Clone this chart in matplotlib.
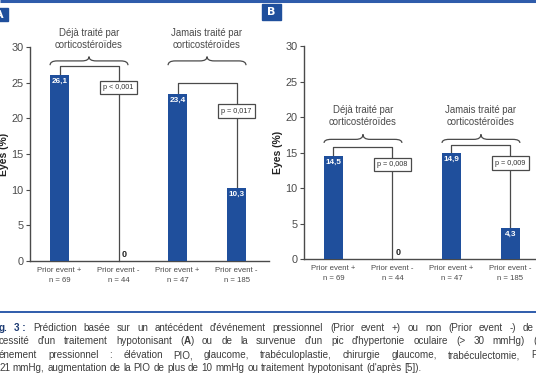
import matplotlib
matplotlib.use("Agg")
import matplotlib.pyplot as plt
from matplotlib.patches import Rectangle, PathPatch
from matplotlib.path import Path

# ---------------- data ----------------
categories = ["Prior event +\nn = 69", "Prior event -\nn = 44",
              "Prior event +\nn = 47", "Prior event -\nn = 185"]
values_A = [26.1, 0, 23.4, 10.3]
values_B = [14.5, 0, 14.9, 4.3]
labels_A = ["26,1", "0", "23,4", "10,3"]
labels_B = ["14,5", "0", "14,9", "4,3"]
pvals_A = ["p < 0,001", "p = 0,017"]
pvals_B = ["p = 0,008", "p = 0,009"]
groups = ["Déjà traité par\ncorticostéroïdes", "Jamais traité par\ncorticostéroïdes"]
yticks = [0, 5, 10, 15, 20, 25, 30]
ylabel = "Eyes (%)"
caption_1 = "**g.** **3\u00a0:** Prédiction basée sur un antécédent d'événement pressionnel (Prior event +) ou non (Prior event -) de"
caption_2 = "cessité d'un traitement hypotonisant (**A**) ou de la survenue d'un pic d'hypertonie oculaire (> 30 mmHg) ("
caption_3 = "énement pressionnel : élévation PIO, glaucome, trabéculoplastie, chirurgie glaucome, trabéculectomie, P"
caption_4 = "21 mmHg, augmentation de la PIO de plus de 10 mmHg ou traitement hypotonisant (d'après [5])."

BLUE = "#1f4f9c"
GRAY = "#4a4a4a"
FONT = ["Liberation Sans", "DejaVu Sans"]

W, H = 536, 386
fig = plt.figure(figsize=(W / 100, H / 100), dpi=100)


def ax_px(left, right, top, bottom):
    return fig.add_axes([left / W, 1 - bottom / H, (right - left) / W, (bottom - top) / H])


def brace(ax, x0, x1, y_end, y_mid, y_tip):
    xc = (x0 + x1) / 2
    d = 0.12
    verts = [(x0, y_end), (x0, y_mid), (x0 + d, y_mid),
             (xc - d, y_mid),
             (xc, y_mid), (xc, y_tip),
             (xc, y_mid), (xc + d, y_mid),
             (x1 - d, y_mid),
             (x1, y_mid), (x1, y_end)]
    codes = [Path.MOVETO, Path.CURVE3, Path.CURVE3,
             Path.LINETO,
             Path.CURVE3, Path.CURVE3,
             Path.CURVE3, Path.CURVE3,
             Path.LINETO,
             Path.CURVE3, Path.CURVE3]
    ax.add_patch(PathPatch(Path(verts, codes), fill=False, edgecolor=GRAY,
                           lw=0.9, clip_on=False))


def panel(ax, values, labels, pvals, xmax, line_y, p_y, brace_y, text_y, width_px):
    x = list(range(len(values)))
    ax.bar(x, values, width=0.31, color=BLUE, zorder=3)
    ax.set_xlim(-0.5, xmax)
    ax.set_ylim(0, 30)
    ax.set_yticks(yticks)
    ax.set_yticklabels([str(t) for t in yticks], fontsize=7.8, color=GRAY, family=FONT)
    ax.set_xticks(x)
    ax.set_xticklabels(categories, fontsize=5.6, color=GRAY, family=FONT,
                       linespacing=1.7)
    ax.tick_params(axis="x", length=0, pad=4)
    ax.tick_params(axis="y", length=3, width=0.8, color=GRAY, pad=1.5)
    for s in ["top", "right"]:
        ax.spines[s].set_visible(False)
    for s in ["left", "bottom"]:
        ax.spines[s].set_color(GRAY)
        ax.spines[s].set_linewidth(1.0)
    ax.set_facecolor("none")
    ax.set_ylabel(ylabel, fontsize=7.5, fontweight="bold", color="#222222", family=FONT)
    ax.yaxis.set_label_coords(-21 / width_px, 0.5)
    for xi, v, lab in zip(x, values, labels):
        if v > 0:
            ax.text(xi, v - 0.4, lab, ha="center", va="top", color="white",
                    fontsize=5.9, fontweight="bold", family=FONT, zorder=4)
        else:
            ax.text(xi + 0.05, 0.35, lab, ha="left", va="bottom", color="#222222",
                    fontsize=6.5, fontweight="bold", family=FONT, zorder=4)
    for g in range(2):
        a, b = 2 * g, 2 * g + 1
        ly = line_y[g]
        ax.plot([a, a, b, b], [values[a], ly, ly, values[b]], color=GRAY, lw=0.9,
                zorder=2, clip_on=False)
        ax.text(b, p_y[g], pvals[g], ha="center", va="center", fontsize=5.2,
                family=FONT, color="#333333", zorder=5,
                bbox=dict(boxstyle="square,pad=0.45", fc="white", ec=GRAY, lw=0.9))
        by = brace_y[g]
        brace(ax, a - 0.16, b + 0.16, by[0], by[1], by[2])
        ax.text(a + 0.5, text_y, groups[g], ha="center", va="center",
                fontsize=6.9, family=FONT, color=GRAY, linespacing=1.25,
                clip_on=False)


axA = ax_px(30, 269, 47, 261)
panel(axA, values_A, labels_A, pvals_A, 3.55,
      line_y=[27.3, 25.0], p_y=[24.3, 21.0],
      brace_y=[(27.45, 28.05, 28.65), (27.45, 28.05, 28.65)], text_y=31.15,
      width_px=239)

axB = ax_px(304, 537, 46, 259)
panel(axB, values_B, labels_B, pvals_B, 3.45,
      line_y=[15.8, 16.1], p_y=[13.3, 13.5],
      brace_y=[(16.35, 16.85, 17.55), (16.35, 16.85, 17.55)], text_y=20.1,
      width_px=233)

# ---------------- frame decorations ----------------
over = fig.add_axes([0, 0, 1, 1], zorder=-1)
over.set_xlim(0, W)
over.set_ylim(H, 0)
over.axis("off")
over.plot([0, W], [1, 1], color="#2f5cab", lw=2.2, solid_capstyle="butt")
over.plot([0, W], [312, 312], color="#2f5cab", lw=1.4, solid_capstyle="butt")
over.add_patch(Rectangle((-12, 8), 20, 13, color=BLUE))
over.text(-1, 14.5, "A", color="white", fontsize=8, fontweight="bold",
          ha="center", va="center")
over.add_patch(Rectangle((262, 4), 19, 16, color=BLUE))
over.text(271.5, 12, "B", color="white", fontsize=8, fontweight="bold",
          ha="center", va="center")

# ---------------- caption (justified) ----------------
CAP_SIZE = 7.1
CAP_COL = "#3c3c3c"
CAP_BOLD_COL = "#1d3b73"
renderer = fig.canvas.get_renderer()


def parse_word(word):
    """split a word into (text, bold) pieces using ** markers"""
    pieces = []
    parts = word.split("**")
    for i, p in enumerate(parts):
        if p:
            pieces.append((p, i % 2 == 1))
    return pieces


def text_width(s, bold):
    t = over.text(0, 0, s, fontsize=CAP_SIZE, family=FONT,
                  fontweight="bold" if bold else "normal")
    w = t.get_window_extent(renderer).width
    t.remove()
    return w


def draw_line(line, y, x0, x_last=None, bold_col=CAP_COL):
    words = [parse_word(w) for w in line.split(" ")]
    widths = []
    for pcs in words:
        widths.append(sum(text_width(s, b) for s, b in pcs))
    if x_last is None:
        gap = text_width("a a", False) - text_width("aa", False)
    else:
        gap = (x_last - x0 - sum(widths[:-1])) / (len(words) - 1)
    x = x0
    for pcs, w in zip(words, widths):
        xx = x
        for s, b in pcs:
            over.text(xx, y, s, fontsize=CAP_SIZE, family=FONT,
                      fontweight="bold" if b else "normal",
                      color=bold_col if b else CAP_COL,
                      ha="left", va="center")
            xx += text_width(s, b)
        x += w + gap


draw_line(caption_1, 328, -1, 523, bold_col=CAP_BOLD_COL)
draw_line(caption_2, 341.5, -1, 533)
draw_line(caption_3, 355, -1, 531)
draw_line(caption_4, 368, -1)

fig.savefig("out.png", dpi=100)
